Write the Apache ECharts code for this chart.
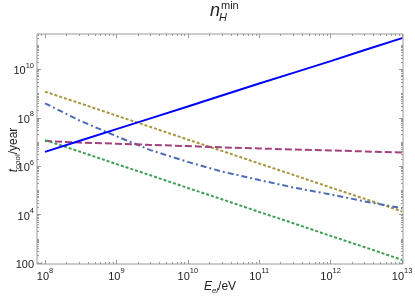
<!DOCTYPE html>
<html><head><meta charset="utf-8">
<script src="https://cdn.jsdelivr.net/npm/echarts@6/dist/echarts.min.js"></script>
<style>html,body{margin:0;padding:0;background:#fff}#c{width:415px;height:296px}</style>
</head><body><div id="c"></div>
<script>
// Electron energy (eV)
const energies = [1e8, 3e8, 1e9, 3e9, 1e10, 3e10, 1e11, 3e11, 1e12, 3e12, 1e13];
// cooling times (years)
const solidBlue   = [3.9e6, 1.1e7, 3.4e7, 9.5e7, 2.95e8, 8.3e8, 2.6e9, 7.2e9, 2.2e10, 6.3e10, 1.95e11];
const dottedOlive = [1.2e9, 4.1e8, 1.23e8, 4.2e7, 1.26e7, 4.3e6, 1.29e6, 4.4e5, 1.32e5, 4.5e4, 1.35e4];
const dashDotBlue = [3.98e8, 7.9e7, 1.74e7, 4.6e6, 1.51e6, 6.0e5, 2.69e5, 1.32e5, 6.8e4, 3.5e4, 1.82e4];
const dashedPlum  = [1.1e7, 9.5e6, 8.5e6, 7.6e6, 6.76e6, 6.0e6, 5.4e6, 4.9e6, 4.47e6, 4.07e6, 3.7e6];
const dottedGreen = [1.2e7, 4.1e6, 1.23e6, 4.2e5, 1.26e5, 4.3e4, 1.29e4, 4.4e3, 1.32e3, 4.5e2, 1.35e2];

const xMajor = [1e8, 1e9, 1e10, 1e11, 1e12, 1e13];
const yMajor = [1e2, 1e4, 1e6, 1e8, 1e10];
const xRange = [7.73e7, 1.03e13];
const yRange = [91, 2.9e11];

const xMinor = [];
for (let n = 7; n <= 12; n++) for (let k = 2; k <= 9; k++) xMinor.push(k * Math.pow(10, n));
const yMinor = [];
for (let n = 1; n <= 11; n++) {
  if (n % 2 === 1) yMinor.push(Math.pow(10, n));
  for (let k = 2; k <= 9; k++) yMinor.push(k * Math.pow(10, n));
}

const FONT = 'Liberation Sans';
const TXT = '#222';
const frameColor = '#9a9a9a';
const labelRich = {
  b: {fontSize: 11, fontFamily: FONT, color: TXT, lineHeight: 15, verticalAlign: 'bottom'},
  s: {fontSize: 7.5, fontFamily: FONT, color: TXT, verticalAlign: 'top'}
};
function powLabel(v) {
  const e = Math.round(Math.log10(v));
  if (e === 2) return '{b|100}';
  return '{b|10}{s|' + e + '}';
}
function mkX(pos, ticks, len, withLabels) {
  return {
    type: 'log', logBase: 10, position: pos, min: xRange[0], max: xRange[1],
    axisLine: {show: false},
    splitLine: {show: false},
    axisTick: {show: true, inside: true, length: len, customValues: ticks, lineStyle: {color: frameColor, width: 1}},
    axisLabel: withLabels ? {show: true, customValues: xMajor, formatter: powLabel, rich: labelRich, margin: 3} : {show: false},
    minorTick: {show: false}
  };
}
function mkY(pos, ticks, len, withLabels) {
  return {
    type: 'log', logBase: 10, position: pos, min: yRange[0], max: yRange[1],
    axisLine: {show: false},
    splitLine: {show: false},
    axisTick: {show: true, inside: true, length: len, customValues: ticks, lineStyle: {color: frameColor, width: 1}},
    axisLabel: withLabels ? {show: true, customValues: yMajor, formatter: powLabel, rich: labelRich, margin: 3} : {show: false},
    minorTick: {show: false}
  };
}
const xAxes = [mkX('bottom', xMajor, 4, true), mkX('top', xMajor, 4, false), mkX('bottom', xMinor, 2, false), mkX('top', xMinor, 2, false)];
const yAxes = [mkY('left', yMajor, 4, true), mkY('right', yMajor, 4, false), mkY('left', yMinor, 2, false), mkY('right', yMinor, 2, false)];

const nameRich = {
  i: {fontSize: 12, fontStyle: 'italic', fontFamily: FONT, fill: TXT, color: TXT, lineHeight: 16},
  sub: {fontSize: 8, fontStyle: 'italic', fontFamily: FONT, fill: TXT, color: TXT, verticalAlign: 'bottom'},
  subr: {fontSize: 8, fontFamily: FONT, fill: TXT, color: TXT, verticalAlign: 'bottom'},
  r: {fontSize: 12, fontFamily: FONT, fill: TXT, color: TXT, lineHeight: 16}
};

function series(name, vals, color, type) {
  return {
    name, type: 'line', xAxisIndex: 0, yAxisIndex: 0, showSymbol: false, symbol: 'none',
    data: energies.map((e, i) => [e, vals[i]]),
    lineStyle: {color, width: 2, type},
    animation: false
  };
}

const chart = echarts.init(document.getElementById('c'), null, {renderer: 'canvas'});
chart.setOption({
  animation: false,
  grid: {left: 37, right: 12, top: 34, bottom: 32, containLabel: false, outerBoundsMode: 'none',
         show: true, borderColor: frameColor, borderWidth: 1, backgroundColor: 'transparent'},
  xAxis: xAxes,
  yAxis: yAxes,
  graphic: [
    {type: 'text', left: 210, top: 2, style: {text: 'n', font: 'italic 18px "Liberation Sans"', fill: TXT}},
    {type: 'text', left: 221, top: 0, style: {text: 'min', font: '11px "Liberation Sans"', fill: TXT}},
    {type: 'text', left: 219, top: 12, style: {text: 'H', font: 'italic 11px "Liberation Sans"', fill: TXT}},
    {type: 'text', x: 220, y: 287, style: {text: '{i|E}{sub|el}{r|/eV}', rich: nameRich, align: 'center', verticalAlign: 'middle'}},
    {type: 'text', x: 14, y: 150, rotation: Math.PI / 2,
     style: {text: '{i|t}{subr|cool}{r|/year}', rich: nameRich, align: 'center', verticalAlign: 'middle'}}
  ],
  series: [
    series('dotted olive', dottedOlive, '#a8963c', [3, 2]),
    series('dash-dot blue', dashDotBlue, '#4a6cb3', [6, 3, 2, 3]),
    series('dashed plum', dashedPlum, '#a3417c', [7, 3]),
    series('dotted green', dottedGreen, '#3ca050', [3, 2]),
    series('solid blue', solidBlue, '#0000ff', 'solid')
  ]
});
</script>
</body></html>
